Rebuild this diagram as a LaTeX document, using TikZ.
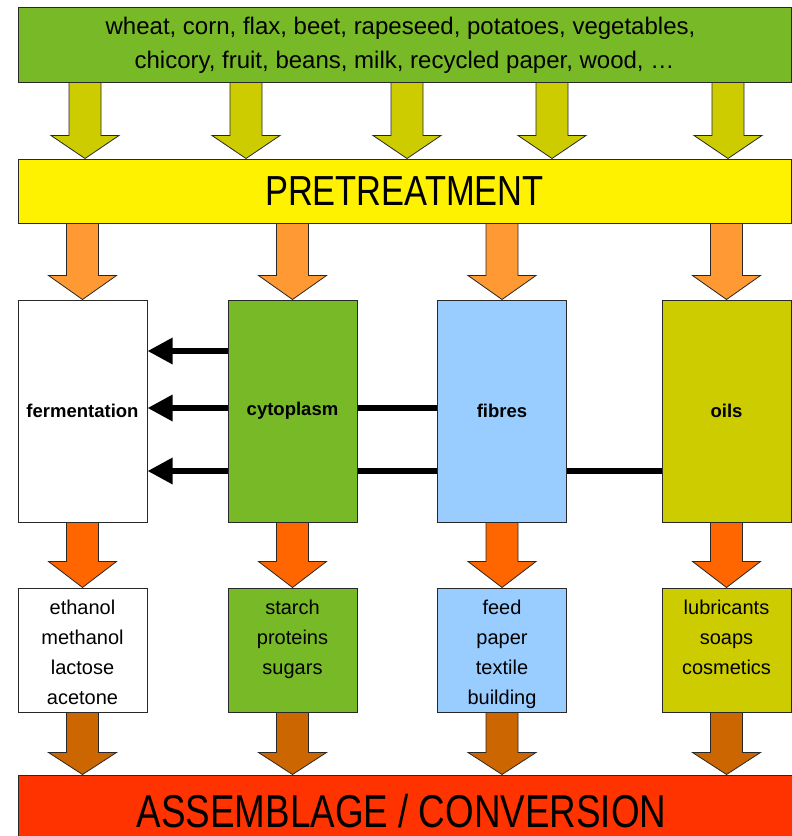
\documentclass[tikz,border=0pt]{standalone}
\usepackage{fontspec}
\usepackage{graphicx}
\setmainfont{Liberation Sans}
\usetikzlibrary{arrows.meta,backgrounds,calc}
\definecolor{leafgreen}{RGB}{120,185,40}
\definecolor{olive}{RGB}{204,204,0}
\definecolor{lightorange}{RGB}{255,153,51}
\definecolor{midorange}{RGB}{255,102,0}
\definecolor{brownorange}{RGB}{204,102,0}
\definecolor{redorange}{RGB}{255,51,0}
\definecolor{skyblue}{RGB}{153,204,255}
\definecolor{edge}{RGB}{40,40,40}
\tikzset{
  banner/.style={draw=edge, line width=1pt, inner sep=0pt, minimum width=773pt},
  bigbox/.style={draw=edge, line width=1pt, inner sep=0pt, minimum width=129pt, minimum height=222pt,
    font=\fontsize{18.5}{20}\selectfont\bfseries},
  prod/.style={draw=edge, line width=1pt, inner sep=0pt, minimum width=129pt, minimum height=124pt},
  flow/.style={line width=6pt, -{Triangle[length=25pt,width=25pt]}},
  barrow/.style={draw=edge, line width=0.8pt, line join=miter},
}
\newcommand{\prodtext}[1]{\parbox[c][124pt][t]{129pt}{\centering\fontsize{20}{30.3}\selectfont\rule{0pt}{26pt}#1\par}}
% #1 source node, #2 target node, #3 column, #4 fill colour, #5 head length
\newcommand{\blockarrow}[5]{%
  \path[barrow,fill=#4] let \p1=(#1.south -| #3), \p2=(#2.north -| #3) in
   (\x1-16pt,\y1) -- (\x1+16pt,\y1) -- (\x1+16pt,\y2+#5) -- (\x1+34pt,\y2+#5) -- (\x2,\y2)
   -- (\x1-34pt,\y2+#5) -- (\x1-16pt,\y2+#5) -- cycle;}
\begin{document}
\begin{tikzpicture}[x=1pt,y=-1pt]
\useasboundingbox (0,0) rectangle (792,836);
\clip (0,0) rectangle (792,836);

% top raw materials
\node[banner, fill=leafgreen, minimum height=75pt,
  font=\fontsize{24}{34}\selectfont] (src) at (404.5,44.5)
  {\raisebox{-3pt}{\begin{tabular}{@{}c@{}}\hspace*{-8pt}wheat, corn, flax, beet, rapeseed, potatoes, vegetables,\\chicory, fruit, beans, milk, recycled paper, wood, \ldots\end{tabular}}};

% pretreatment
\node[banner, fill=yellow, minimum height=64pt, font=\fontsize{42}{42}\selectfont] (pre) at (404.5,191)
  {\scalebox{0.82}[1]{PRETREATMENT}};

% fractions
\node[bigbox, fill=white] (ferm) at (82.5,411) {fermentation};
\node[bigbox, fill=leafgreen] (cyto) at (292.5,411) {cytoplasm};
\node[bigbox, fill=skyblue] (fib) at (502,411) {fibres};
\node[bigbox, fill=olive] (oils) at (726.5,411) {oils};

% products
\node[prod, fill=white] (p1) at (82.5,650) {\prodtext{ethanol\\methanol\\lactose\\acetone}};
\node[prod, fill=leafgreen] (p2) at (292.5,650) {\prodtext{starch\\proteins\\sugars}};
\node[prod, fill=skyblue] (p3) at (502,650) {\prodtext{feed\\paper\\textile\\building}};
\node[prod, fill=olive] (p4) at (726.5,650) {\prodtext{lubricants\\soaps\\cosmetics}};

% assemblage
\node[draw=edge, line width=1pt, fill=redorange, inner sep=0pt, minimum width=782pt, minimum height=73pt,
  font=\fontsize{46}{46}\selectfont] (asm) at (409,811.5) {\hspace*{-15pt}\scalebox{0.8}[1]{ASSEMBLAGE / CONVERSION}};

% columns for the yellow arrows
\coordinate (k1) at (85,0);
\coordinate (k2) at (246,0);
\coordinate (k3) at (407,0);
\coordinate (k4) at (552,0);
\coordinate (k5) at (728,0);
\foreach \k in {k1,k2,k3,k4,k5} {\blockarrow{src}{pre}{\k}{olive}{23pt}}

% pretreatment -> fractions
\foreach \b in {ferm,cyto,fib,oils} {\blockarrow{pre}{\b}{\b}{lightorange}{24pt}}
% fractions -> products
\blockarrow{ferm}{p1}{ferm}{midorange}{26pt}
\blockarrow{cyto}{p2}{cyto}{midorange}{26pt}
\blockarrow{fib}{p3}{fib}{midorange}{26pt}
\blockarrow{oils}{p4}{oils}{midorange}{26pt}
% products -> assemblage
\foreach \b in {p1,p2,p3,p4} {\blockarrow{\b}{asm}{\b}{brownorange}{22pt}}

% flows into fermentation (behind the boxes)
\begin{scope}[on background layer]
  \fill[white] (0,0) rectangle (792,836);
  \draw[flow] ([yshift=60pt]cyto.west) -- ([yshift=60pt]ferm.east);
  \draw[flow] ([yshift=3pt]fib.west) -- ([yshift=3pt]ferm.east);
  \draw[flow] ([yshift=-60pt]oils.west) -- ([yshift=-60pt]ferm.east);
\end{scope}
\end{tikzpicture}
\end{document}
